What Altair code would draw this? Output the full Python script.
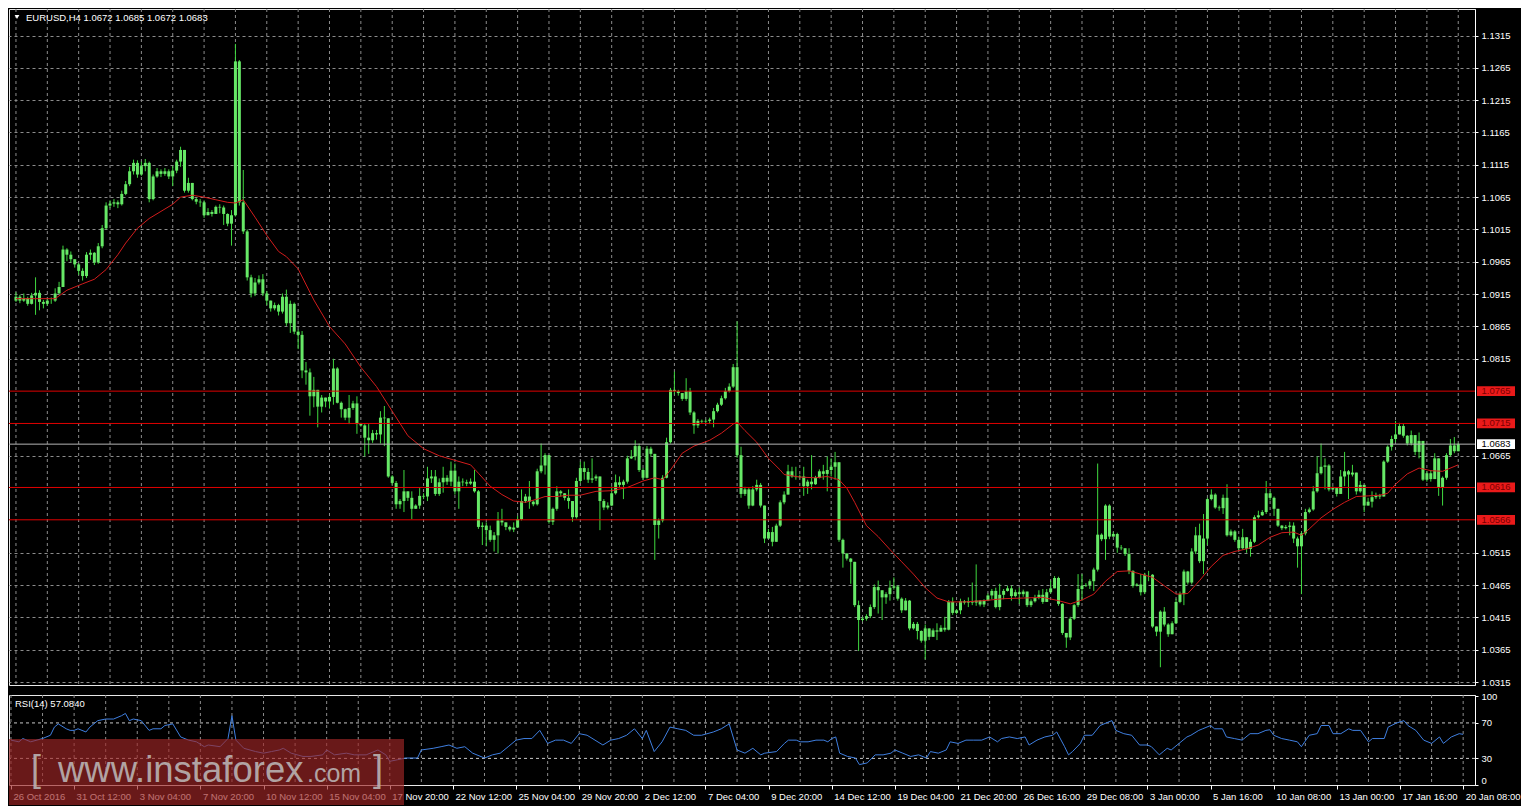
import altair as alt
import pandas as pd

# ---------------- data (prices in pips above 1.0300) ----------------
BASE = 1.03
first_open = 605
close_p = [
    611,605,609,600,613,617,603,600,605,605, 616,626,684,676,669,661,651,643,676,679,
    664,689,717,752,755,757,754,770,785,805, 818,800,813,818,762,797,805,801,805,797,
    806,820,838,775,787,762,758,757,737,742, 739,750,749,739,724,737,975,757,712,641,
    616,633,638,616,605,593,598,588,611,570, 600,557,552,497,494,457,467,441,455,449,
    456,500,447,437,424,439,446,414,412,393, 389,400,398,424,423,333,323,290,295,310,
    300,283,288,303,302,330,333,306,324,331, 325,342,310,325,324,322,325,310,255,257,
    250,235,242,265,262,255,251,254,267,295, 302,294,290,341,350,366,263,283,310,307,
    300,295,270,326,346,340,328,330,333,295, 285,288,307,324,320,325,361,364,380,343,
    331,376,368,258,265,331,386,467,465,462, 453,465,432,412,419,418,419,421,434,444,
    454,465,472,502,366,306,313,288,313,320, 288,237,247,232,257,293,305,341,333,332,
    333,318,325,321,331,341,337,343,348,355, 235,214,206,201,134,111,113,117,131,162,
    157,146,151,161,163,144,126,141,98,105, 94,79,98,85,95,93,99,96,139,122,
    126,140,138,140,138,141,135,141,149,156, 131,150,156,160,148,154,151,155,134,140,
    145,150,139,154,160,176,136,91,84,113, 134,159,164,165,171,189,243,236,288,240,
    244,223,222,213,187,164,166,154,181,181, 101,93,124,104,89,106,139,151,186,169,
    217,242,202,237,298,305,285,284,300,242, 248,235,222,239,221,232,270,273,278,307,
    300,283,257,253,255,257,237,225,245,278, 282,310,338,348,350,313,315,306,333,341,
    336,339,310,320,288,294,301,304,302,356, 379,391,398,411,396,384,397,371,388,328,
    338,329,361,316,331,366,381,372,383,
]
high_p = [
    618,614,616,611,617,641,621,606,608,610, 624,634,690,686,681,668,663,655,680,684,
    680,694,722,757,760,762,760,775,790,812, 823,822,820,824,820,800,810,808,810,808,
    813,823,843,800,795,787,764,762,760,748, 745,752,754,752,740,745,1002,977,807,715,
    645,640,644,646,620,605,602,600,616,622, 605,602,560,558,510,500,487,467,459,455,
    460,515,502,449,438,459,450,457,416,414, 414,405,405,434,442,414,335,326,298,343,
    310,310,290,315,307,348,343,343,330,348, 335,356,353,333,330,328,330,343,312,262,
    262,257,247,278,283,262,257,262,272,313, 306,326,296,345,384,369,340,285,318,312,
    306,313,293,331,356,356,346,361,336,330, 298,293,318,336,333,328,365,374,389,384,
    346,380,379,368,268,335,393,470,495,467, 462,485,470,434,422,421,421,424,439,447,
    458,470,477,507,573,379,317,315,318,328, 323,275,252,255,260,296,310,351,348,348,
    336,348,328,366,334,344,351,364,361,371, 355,237,214,207,201,141,116,120,135,166,
    172,149,154,172,177,165,146,145,142,108, 108,95,104,98,98,106,103,116,142,146,
    128,144,142,146,169,197,142,143,152,159, 161,167,159,164,164,158,161,158,155,143,
    150,157,159,159,172,179,178,137,91,116, 136,182,182,168,174,192,353,245,290,290,
    247,246,227,222,222,188,168,182,184,187, 182,101,126,131,106,109,144,155,189,187,
    222,255,260,275,300,313,307,288,305,321, 251,250,240,252,224,236,273,280,281,326,
    310,302,274,258,258,263,262,240,248,283, 285,318,364,384,361,352,318,316,343,371,
    343,351,321,326,318,300,310,308,306,358, 381,396,419,416,414,397,404,397,401,382,
    341,343,369,361,333,369,391,394,385,
]
low_p = [
    603,601,603,597,599,583,590,593,597,600, 603,616,640,666,664,656,645,636,640,668,
    660,662,686,715,748,750,748,752,768,782, 800,795,798,805,757,760,795,796,798,793,
    782,802,812,772,772,760,754,750,733,737, 735,740,740,722,720,690,735,752,708,636,
    610,612,630,612,598,588,590,582,585,566, 555,553,530,485,475,427,440,409,432,440,
    438,444,446,424,420,414,436,399,410,364, 368,385,390,384,380,331,320,283,283,278,
    295,267,283,283,298,295,323,303,303,308, 320,318,305,283,318,318,320,308,252,227,
    225,232,217,214,257,250,248,247,258,265, 292,283,287,288,338,336,260,258,280,302,
    296,283,263,268,323,328,323,323,326,250, 281,282,287,305,315,298,322,360,358,340,
    328,330,364,204,237,262,330,384,460,458, 450,450,428,399,408,415,415,414,409,432,
    442,452,463,470,362,300,303,283,287,310, 285,230,240,225,250,255,290,308,331,328,
    330,303,306,313,320,330,328,310,333,328, 232,192,203,167,131,63,109,110,114,128,
    121,111,136,141,158,141,122,128,95,96, 81,76,50,80,85,80,93,93,95,119,
    120,120,135,131,134,133,132,131,140,143, 129,126,143,155,141,146,136,147,131,131,
    138,143,136,150,152,163,133,88,68,80, 111,131,141,162,159,156,186,233,204,236,
    240,215,219,210,182,161,163,149,151,171, 99,86,38,101,85,90,105,137,134,166,
    166,213,199,182,227,296,283,280,275,240, 240,232,218,220,215,209,230,268,272,275,
    296,272,255,250,251,242,230,192,151,242, 276,280,308,336,313,310,312,302,310,318,
    298,333,305,308,278,290,285,298,298,302, 354,373,386,398,393,381,381,366,361,326,
    325,325,330,303,288,328,364,369,372,
]

ma_bar = [0,4,10,13,17,20,23,26,28,31,34,37,40,42,45,48,51,54,56,58,
          61,64,67,69,72,76,80,84,88,92,96,100,104,108,112,116,118,121,124,127,
          130,133,135,138,141,144,148,152,156,160,163,165,167,170,173,177,180,183,184,186,
          189,192,195,196,200,204,207,210,212,214,217,220,223,226,229,232,235,238,242,247,
          252,257,262,266,269,272,275,278,281,284,287,290,293,296,299,302,305,308,311,314,
          317,320,323,326,328,330,333,336,339,342,345,348,350,352,355,358,361,364,368]
ma_val = [608,608,608,621,631,638,653,676,694,717,732,743,754,765,768,765,761,757,756,761,
          734,706,681,673,654,606,565,538,502,472,434,396,376,365,358,351,338,318,305,295,
          293,298,302,302,304,304,310,311,316,326,331,328,343,369,380,389,400,414,417,404,
          386,361,343,336,332,331,333,328,315,293,257,240,220,201,182,161,145,139,139,141,
          144,145,146,141,136,142,151,171,186,187,182,177,164,151,152,172,194,211,217,221,
          227,239,246,247,242,252,269,282,293,302,303,304,307,321,337,346,342,341,351]

rsi_bar = [0,2,3,5,8,10,11,12,14,15,16,17,19,20,22,24,26,28,29,30,
           31,33,35,36,38,39,41,43,45,47,49,50,53,55,56,57,59,62,64,66,
           68,69,71,74,76,79,80,82,85,87,90,93,95,96,98,100,103,104,107,109,
           111,113,115,117,120,122,124,126,128,130,132,134,135,136,138,140,142,144,146,148,
           150,152,154,156,158,160,161,163,165,167,169,171,173,175,178,180,182,184,186,188,
           190,191,194,196,197,199,200,202,204,206,207,208,209,210,212,214,215,217,219,221,
           223,224,226,228,230,232,233,235,237,238,240,242,244,246,248,250,251,253,255,257,
           258,260,262,264,265,267,268,269,271,272,274,276,278,279,280,282,284,286,288,289,
           291,292,293,294,296,298,299,301,302,304,305,307,308,310,312,314,316,318,319,320,
           322,324,326,327,329,331,332,334,335,337,339,340,342,344,345,348,349,351,353,354,
           356,358,360,362,363,365,367,368]
rsi_val = [50.6,48.7,52.4,48.7,52.4,56.1,65.3,68.9,63.4,61.6,61.6,63.4,59.8,65.3,72.6,74.4,74.4,78.1,80.7,72.6,
           74.4,72.6,61.6,63.4,63.4,67.1,68.9,54.2,50.6,48.7,43.2,45.1,43.2,52.4,78.1,50.6,41.4,37.7,35.9,37.7,
           39.5,41.4,35.9,32.2,32.2,34.0,39.5,34.0,35.9,34.0,34.0,39.5,34.0,26.7,28.5,30.4,30.4,39.5,41.4,43.2,
           45.1,41.4,43.2,35.9,30.4,34.0,35.9,43.2,50.6,52.4,52.4,61.6,54.2,46.9,50.6,50.6,46.9,57.9,56.1,50.6,
           45.1,50.6,52.4,56.1,63.4,52.4,61.6,37.7,48.7,65.3,63.4,61.6,56.1,56.1,59.8,63.4,68.9,39.5,35.9,41.4,
           34.0,35.9,37.7,46.9,50.6,50.6,48.7,48.7,50.6,50.6,48.7,52.4,54.2,35.9,32.2,30.4,23.0,24.9,34.0,34.0,
           35.9,39.5,35.9,32.2,34.0,30.4,37.7,35.9,39.5,48.7,46.9,50.6,50.6,50.6,54.2,48.7,52.4,54.2,52.4,54.2,
           45.1,50.6,54.2,56.1,59.8,43.2,34.0,37.7,46.9,56.1,56.1,67.1,70.8,72.6,61.6,57.9,56.1,45.1,45.1,43.2,
           34.0,37.7,41.4,39.5,46.9,54.2,56.1,61.6,63.4,67.1,63.4,63.4,54.2,52.4,50.6,57.9,57.9,61.6,62.3,56.1,
           52.4,50.6,48.7,43.2,56.1,57.9,67.1,67.1,57.9,57.9,63.4,61.6,61.6,48.7,52.4,52.4,65.3,69.7,72.6,67.1,
           61.6,50.6,46.9,54.2,46.9,54.2,57.9,57.1]

levels = [1.0765, 1.0715, 1.0616, 1.0566]
price_ticks = [1.0315, 1.0365, 1.0415, 1.0465, 1.0515, 1.0665, 1.0815, 1.0865, 1.0915,
               1.0965, 1.1015, 1.1065, 1.1115, 1.1165, 1.1215, 1.1265, 1.1315]
rsi_ticks = [0, 30, 70, 100]
rsi_levels = [30, 70]
x_labels = ["26 Oct 2016", "31 Oct 12:00", "3 Nov 04:00", "7 Nov 20:00", "10 Nov 12:00",
            "15 Nov 04:00", "17 Nov 20:00", "22 Nov 12:00", "25 Nov 04:00", "29 Nov 20:00",
            "2 Dec 12:00", "7 Dec 04:00", "9 Dec 20:00", "14 Dec 12:00", "19 Dec 04:00",
            "21 Dec 20:00", "26 Dec 16:00", "29 Dec 08:00", "3 Jan 00:00", "5 Jan 16:00",
            "10 Jan 08:00", "13 Jan 00:00", "17 Jan 16:00", "20 Jan 08:00"]
grid_bars = list(range(0, 369, 8))
label_bars = list(range(0, 369, 16))

assert len(close_p) == len(high_p) == len(low_p) == 369
assert len(ma_bar) == len(ma_val) and len(rsi_bar) == len(rsi_val)

# ---------------- tables ----------------
opens = [first_open] + close_p[:-1]
bars = pd.DataFrame({
    "bar": list(range(len(close_p))),
    "open": [BASE + o / 10000 for o in opens],
    "close": [BASE + c / 10000 for c in close_p],
    "high": [BASE + max(h, o, c) / 10000 for h, o, c in zip(high_p, opens, close_p)],
    "low": [BASE + min(l, o, c) / 10000 for l, o, c in zip(low_p, opens, close_p)],
})
ma = pd.DataFrame({"bar": ma_bar, "ma": [BASE + v / 10000 for v in ma_val]})
rsi = pd.DataFrame({"bar": rsi_bar, "rsi": rsi_val})
lv = pd.DataFrame({"level": levels, "lab": [f"{v:.4f}" for v in levels]})
last = bars.iloc[-1]
cur = pd.DataFrame({"level": [last["close"]], "lab": [f"{last['close']:.4f}"]})
title_df = pd.DataFrame({"t": [f"EURUSD,H4  {last['open']:.4f} {last['high']:.4f} {last['low']:.4f} {last['close']:.4f}"]})
rsi_title = pd.DataFrame({"t": [f"RSI(14) {57.0840:.4f}"]})
grid_df = pd.DataFrame({"bar": grid_bars})
rsi_lv = pd.DataFrame({"r": rsi_levels})

# ---------------- layout ----------------
W, HP, HR = 1466, 676, 90
GREEN_W = "#3fd83f"
GREEN_B = "#66e866"
GRID = "#8c8c8c"
FONT = "Liberation Sans"

xs = alt.Scale(domain=[-0.5, 371], nice=False, zero=False)
ys = alt.Scale(domain=[1.03105, 1.1356], nice=False, zero=False)
rs = alt.Scale(domain=[0, 101.5], nice=False, zero=False)

price_axis = alt.Axis(orient="right", values=price_ticks, format=".4f", grid=True,
                      gridColor=GRID, gridDash=[3, 3], gridWidth=1, tickSize=3,
                      labelPadding=3, title=None)
rsi_axis = alt.Axis(orient="right", values=rsi_ticks, grid=False, tickSize=3,
                    labelPadding=3, labelFlush=True, title=None)
lab_js = "[" + ",".join(f"'{s}'" for s in x_labels) + "]"
x_axis = alt.Axis(values=label_bars, labelExpr=f"{lab_js}[round(datum.value/16)]",
                  labelAlign="left", labelOffset=2, labelFlush=False, labelOverlap=False,
                  labelBound=False, labelPadding=2, tickSize=4, domain=False, grid=False,
                  title=None)

X_none = lambda f: alt.X(f, scale=xs, axis=None, title=None)
Y_p = lambda f: alt.Y(f, scale=ys, axis=price_axis, title=None)

# ----- price panel -----
vgrid = alt.Chart(grid_df).mark_rule(color=GRID, strokeDash=[3, 3], strokeWidth=1).encode(
    x=X_none("bar:Q"))
wicks = alt.Chart(bars).mark_rule(color=GREEN_W, strokeWidth=1).encode(
    x=X_none("bar:Q"), y=Y_p("low:Q"), y2="high:Q")
bodies = alt.Chart(bars).mark_bar(size=3, color=GREEN_B).encode(
    x=X_none("bar:Q"), y=Y_p("open:Q"), y2="close:Q")
ma_line = alt.Chart(ma).mark_line(color="#d21c1c", strokeWidth=1).encode(
    x=X_none("bar:Q"), y=Y_p("ma:Q"))
lv_rules = alt.Chart(lv).mark_rule(color="#e00000", strokeWidth=1).encode(y=Y_p("level:Q"))
cur_rule = alt.Chart(cur).mark_rule(color="#b4b4b4", strokeWidth=1).encode(y=Y_p("level:Q"))

lv_box = alt.Chart(lv).transform_calculate(
    lo="datum.level - 0.00075", hi="datum.level + 0.00075"
).mark_rect(color="#ea1a1a").encode(
    x=alt.value(W + 2), x2=alt.value(W + 40), y=Y_p("lo:Q"), y2="hi:Q")
lv_txt = alt.Chart(lv).mark_text(color="#7a0000", font=FONT, fontSize=9.5, align="center",
                                 baseline="middle").encode(
    x=alt.value(W + 21), y=Y_p("level:Q"), text="lab:N")
cur_box = alt.Chart(cur).transform_calculate(
    lo="datum.level - 0.00075", hi="datum.level + 0.00075"
).mark_rect(color="#ffffff").encode(
    x=alt.value(W + 2), x2=alt.value(W + 40), y=Y_p("lo:Q"), y2="hi:Q")
cur_txt = alt.Chart(cur).mark_text(color="#000000", font=FONT, fontSize=9.5, align="center",
                                   baseline="middle").encode(
    x=alt.value(W + 21), y=Y_p("level:Q"), text="lab:N")

tri = alt.Chart(title_df).mark_point(shape="triangle-down", filled=True, color="white",
                                     size=22, opacity=1).encode(
    x=alt.value(8), y=alt.value(8))
title_txt = alt.Chart(title_df).mark_text(color="white", font=FONT, fontSize=9.5, align="left",
                                          baseline="middle").encode(
    x=alt.value(17), y=alt.value(8.5), text="t:N")

price = alt.layer(vgrid, wicks, bodies, ma_line, lv_rules, cur_rule, lv_box, lv_txt,
                  cur_box, cur_txt, tri, title_txt).properties(width=W, height=HP)

# ----- RSI panel -----
X_r = lambda f: alt.X(f, scale=xs, axis=x_axis, title=None)
Y_r = lambda f: alt.Y(f, scale=rs, axis=rsi_axis, title=None)

r_vgrid = alt.Chart(grid_df).mark_rule(color=GRID, strokeDash=[3, 3], strokeWidth=1).encode(
    x=X_r("bar:Q"))
r_hgrid = alt.Chart(rsi_lv).mark_rule(color="#c8c8c8", strokeDash=[3, 3], strokeWidth=1).encode(
    y=Y_r("r:Q"))
r_line = alt.Chart(rsi).mark_line(color="#3f7fe0", strokeWidth=1).encode(
    x=X_r("bar:Q"), y=Y_r("rsi:Q"))
r_title = alt.Chart(rsi_title).mark_text(color="white", font=FONT, fontSize=9.5, align="left",
                                         baseline="middle").encode(
    x=alt.value(6), y=alt.value(9), text="t:N")

wm_box = alt.Chart(rsi_title).mark_rect(color="#a02626", opacity=0.66).encode(
    x=alt.value(0), x2=alt.value(395), y=alt.value(44), y2=alt.value(HR + 20))
WMC = "#b9b2b2"
wm_l = alt.Chart(pd.DataFrame({"t": ["["]})).mark_text(
    color=WMC, opacity=0.9, font=FONT, fontSize=36, fontWeight=300, align="left",
    baseline="alphabetic").encode(x=alt.value(22), y=alt.value(86), text="t:N")
wm_main = alt.Chart(pd.DataFrame({"t": ["www.instaforex"]})).mark_text(
    color=WMC, opacity=0.9, font=FONT, fontSize=36.5, align="left",
    baseline="alphabetic").encode(x=alt.value(49), y=alt.value(87), text="t:N")
wm_com = alt.Chart(pd.DataFrame({"t": [".com"]})).mark_text(
    color=WMC, opacity=0.9, font=FONT, fontSize=25, align="left",
    baseline="alphabetic").encode(x=alt.value(298), y=alt.value(87), text="t:N")
wm_r = alt.Chart(pd.DataFrame({"t": ["]"]})).mark_text(
    color=WMC, opacity=0.9, font=FONT, fontSize=36, align="left",
    baseline="alphabetic").encode(x=alt.value(364), y=alt.value(86), text="t:N")

rsi_panel = alt.layer(r_vgrid, r_hgrid, r_line, r_title, wm_box, wm_l, wm_main, wm_com,
                      wm_r).properties(width=W, height=HR)

chart = alt.vconcat(price, rsi_panel, spacing=2).properties(
    padding={"left": 0, "top": 0, "right": 0, "bottom": 0}
).configure(background="#000000").configure_view(
    stroke="#e8e8e8", strokeWidth=1
).configure_axis(
    labelColor="white", tickColor="white", domainColor="white", labelFont=FONT,
    labelFontSize=9.5, titleColor="white"
)

chart.save("out.html", embed_options={"renderer": "svg", "actions": False})
